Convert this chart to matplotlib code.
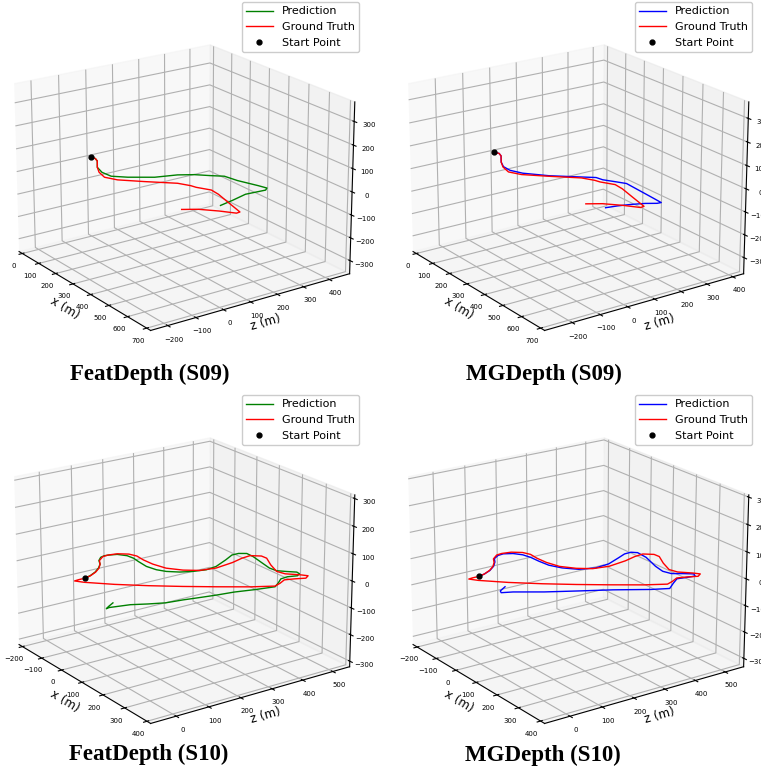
import numpy as np
import matplotlib
matplotlib.use('Agg')
import matplotlib.pyplot as plt

# KITTI 09 ground truth (x, z, height) in metres
s09_gt_x = [0, 17, 41, 91, 132, 180, 223, 283, 354, 395, 416, 462, 504, 582, 662, 664, 620, 573, 546]
s09_gt_z = [0, 7, -1, -33, -53, -64, -44, 15, 90, 111, 116, 140, 136, 118, 100, 86, 54, 12, -29]
s09_gt_h = [0, 0, 0, 0, 0, 0, 0, 0, 0, 0, 0, 0, 0, 0, 0, 0, 0, 0, 0]

# FeatDepth prediction on 09
s09_feat_x = [0, 17, 41, 91, 138, 184, 221, 269, 292, 320, 357, 385, 440, 513, 545, 557, 551, 571, 585]
s09_feat_z = [0, 7, -1, -33, -46, -42, -5, 63, 133, 177, 214, 245, 255, 280, 289, 275, 203, 139, 85]
s09_feat_h = [0, 0, 0, 0, 0, 0, 0, 0, 0, 0, 0, 0, 0, 0, 0, 0, 0, 0, 0]

# MGDepth prediction on 09
s09_mg_x = [0, 17, 41, 91, 130, 170, 215, 281, 336, 377, 405, 444, 474, 551, 611, 666, 664, 644, 627, 614, 606]
s09_mg_z = [0, 7, -1, -33, -50, -52, -34, 20, 82, 129, 134, 157, 174, 169, 165, 161, 147, 117, 78, 38, 0]
s09_mg_h = [0, 0, 0, 0, 0, 0, 0, 0, 0, 0, 0, 0, 0, 0, 0, 0, 0, 0, 0, 0, 0]

# KITTI 10 ground truth
s10_gt_x = [0, -7, -23, -44, -68, -93, -114, -117, -111, -91, -66, -30, 12, 58, 96, 123, 133, 123, 110, 106,
            126, 148, 196, 245, 273, 302, 319, 330, 317, 308, 322, 331, 300, 249, 197, 142, 83, 25, 2, 0, 0]
s10_gt_z = [0, 21, 48, 72, 91, 105, 129, 147, 174, 198, 207, 204, 206, 217, 245, 279, 326, 387, 428, 458,
            481, 482, 459, 441, 448, 476, 488, 472, 444, 418, 393, 370, 316, 244, 174, 105, 38, -18, -33, -20, -9]
s10_gt_h = [0, 0, 0, 0, 0, 0, 0, 0, 0, 0, 0, 0, 0, 0, 0, 0, 0, 0, 0, 0,
            0, 0, 0, 0, 0, 0, 0, 0, 0, 0, 0, 0, 0, 0, 0, 0, 0, 0, 0, 0, 0]

# FeatDepth prediction on 10
s10_feat_x = [0, -9, -24, -45, -68, -94, -113, -118, -115, -107, -83, -56, -27, 17, 53, 79, 103, 119, 129, 123,
              96, 74, 74, 87, 117, 173, 214, 241, 261, 280, 294, 303, 294, 297, 319, 335, 322, 306, 298, 288,
              277, 269, 250, 229, 215, 218, 208, 193]
s10_feat_z = [0, 23, 47, 71, 91, 104, 122, 137, 151, 171, 187, 190, 186, 182, 189, 203, 229, 260, 297, 333,
              384, 421, 443, 461, 460, 449, 441, 444, 462, 481, 479, 465, 439, 415, 389, 367, 312, 258, 210, 164,
              117, 70, 29, -10, -65, -75, -62, -39]
s10_feat_h = [0, 0, 0, 0, 0, 0, 0, 0, 0, 0, 0, 0, 0, 0, 0, 0, 0, 0, 0, 0,
              0, 0, 0, 0, 0, 0, 0, 0, 0, 0, 0, 0, 0, 0, 0, 0, 0, 0, 0, 0,
              0, 0, 0, 0, 0, 0, 0, 0]

# MGDepth prediction on 10
s10_mg_x = [0, -7, -21, -44, -70, -93, -109, -112, -99, -75, -45, -7, 34, 72, 106, 123, 117, 94, 77, 76,
            89, 133, 204, 246, 273, 291, 309, 324, 320, 313, 334, 360, 338, 284, 240, 195, 149, 136, 124, 105]
s10_mg_z = [0, 21, 47, 74, 95, 108, 130, 149, 172, 188, 194, 195, 199, 216, 246, 289, 336, 384, 418, 440,
            453, 449, 427, 419, 427, 452, 474, 467, 443, 415, 387, 355, 311, 229, 152, 75, 9, -19, -14, 13]
s10_mg_h = [0, 0, 0, 0, 0, 0, 0, 0, 0, 0, 0, 0, 0, 0, 0, 0, 0, 0, 0, 0,
            0, 0, 0, 0, 0, 0, 0, 0, 0, 0, 0, 0, 0, 0, 0, 0, 0, 0, 0, 0]

# axis limits of each panel: x, z, height
lims_feat09 = ([-20, 720], [-260, 480], [-358, 382])
lims_mg09 = ([-20, 720], [-297, 443], [-371, 369])
lims_feat10 = ([-218, 416], [-77, 557], [-321, 313])
lims_mg10 = ([-222, 418], [-77, 563], [-332, 308])

W, H = 761, 771
fig = plt.figure(figsize=(W / 100, H / 100), dpi=100)

S = 380
ZOOM = 0.985


def panel(cx, cy, gx, gz, gh, px, pz, ph, color, lims, title, tx, ty, leg_x, leg_y):
    ax = fig.add_axes([(cx - S / 2) / W, 1 - (cy + S / 2) / H, S / W, S / H], projection='3d')
    ax.plot(px, pz, ph, color=color, lw=1.0, label='Prediction')
    ax.plot(gx, gz, gh, color='red', lw=1.0, label='Ground Truth')
    ax.plot([gx[0]], [gz[0]], [gh[0]], 'o', color='black', ms=3.5, label='Start Point')
    ax.set_xlim(lims[0])
    ax.set_ylim(lims[1])
    ax.set_zlim(lims[2])
    ax.view_init(elev=20, azim=-35)
    ax.set_box_aspect((4, 4, 3), zoom=ZOOM)
    ax.set_xlabel('x (m)', fontsize=8.5, labelpad=-9)
    ax.set_ylabel('z (m)', fontsize=8.5, labelpad=-9)
    ax.tick_params(labelsize=5, pad=-2)
    ax.legend(loc='upper right', bbox_to_anchor=(leg_x / W, 1 - leg_y / H),
              bbox_transform=fig.transFigure, borderaxespad=0, fontsize=8,
              handlelength=2.4, framealpha=1)
    fig.text(tx / W, 1 - ty / H, title, ha='center', va='baseline',
             fontsize=16.5, fontweight='bold', family='Liberation Serif')
    return ax


panel(177, 184, s09_gt_x, s09_gt_z, s09_gt_h, s09_feat_x, s09_feat_z, s09_feat_h, 'green',
      lims_feat09, 'FeatDepth (S09)', 150, 380, 359, 2)
panel(571, 184, s09_gt_x, s09_gt_z, s09_gt_h, s09_mg_x, s09_mg_z, s09_mg_h, 'blue',
      lims_mg09, 'MGDepth (S09)', 544, 380, 752, 2)
panel(177, 577, s10_gt_x, s10_gt_z, s10_gt_h, s10_feat_x, s10_feat_z, s10_feat_h, 'green',
      lims_feat10, 'FeatDepth (S10)', 149, 760, 359, 395)
panel(571, 577, s10_gt_x, s10_gt_z, s10_gt_h, s10_mg_x, s10_mg_z, s10_mg_h, 'blue',
      lims_mg10, 'MGDepth (S10)', 543, 761, 752, 395)

fig.savefig('out.png', dpi=100)
